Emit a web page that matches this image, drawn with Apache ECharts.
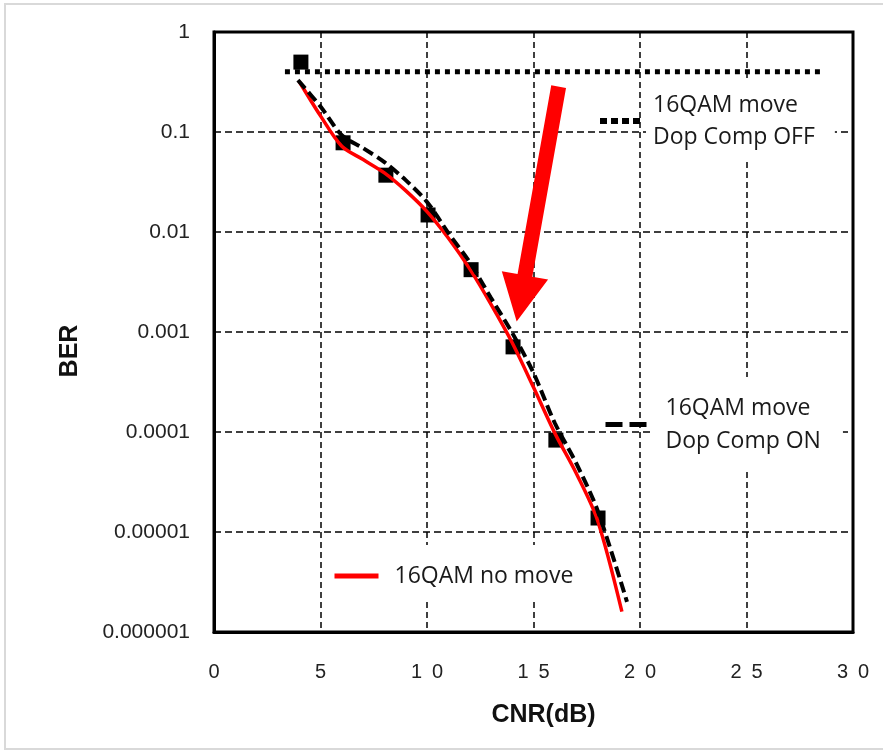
<!DOCTYPE html>
<html>
<head>
<meta charset="utf-8">
<script src="https://cdn.jsdelivr.net/npm/echarts@6/dist/echarts.min.js"></script>
<style>
html,body{margin:0;padding:0;background:#fff;}
#chart{width:883px;height:752px;}
</style>
</head>
<body>
<div id="chart"></div>
<script>
// ---- data ----
const xTickLabels = ['0', '5', '10', '15', '20', '25', '30'];
const yTickLabels = ['1', '0.1', '0.01', '0.001', '0.0001', '0.00001', '0.000001'];

const offName = '16QAM move\nDop Comp OFF';
const onName = '16QAM move\nDop Comp ON';
const noMoveName = '16QAM no move';

const offCnr = [3.33, 28.5];
const offBer = [0.40, 0.40];

const onMarkCnr = [4.08, 6.06, 8.07, 10.05, 12.07, 14.04, 16.05, 18.03];
const onMarkBer = [0.50, 0.078, 0.037, 0.0148, 0.0042, 0.00071, 0.000083, 0.0000138];

const onCnr = [3.94, 5, 6, 7, 8, 9, 10, 11, 12, 13, 14, 15, 16, 17, 18, 19.39];
const onBer = [0.33, 0.18, 0.093, 0.069, 0.050, 0.033, 0.020, 0.0098, 0.0050, 0.0022, 0.00098, 0.00039, 0.000123, 0.000049, 0.0000166, 0.000002];

const noMoveCnr = [4.0, 5, 6, 7, 8, 9, 10, 11, 12, 13, 14, 15, 16, 17, 18, 19.15];
const noMoveBer = [0.32, 0.145, 0.072, 0.053, 0.039, 0.0259, 0.016, 0.0087, 0.0043, 0.0019, 0.00078, 0.00028, 0.0000975, 0.0000389, 0.0000132, 0.0000016];

const arrowFrom = [16.18, 0.284];
const arrowTo = [14.21, 0.00127];

// ---- chart ----
const pairs = (xs, ys) => xs.map((x, i) => [x, ys[i]]);
const legendFont = 'Open Sans';
const axisFont = 'Liberation Sans';

const chart = echarts.init(document.getElementById('chart'), null, {renderer: 'canvas'});
chart.setOption({
  backgroundColor: '#fff',
  animation: false,
  graphic: [{
    type: 'rect', silent: true, z: -10,
    shape: {x: 5, y: 4, width: 900, height: 745},
    style: {fill: null, stroke: '#d9d9d9', lineWidth: 2}
  }],
  grid: {
    left: 214, right: 30, top: 32, bottom: 120,
    show: true, borderColor: '#000', borderWidth: 3, backgroundColor: 'transparent'
  },
  xAxis: {
    type: 'value', min: 0, max: 30, interval: 5,
    name: 'CNR(dB)', nameLocation: 'middle', nameGap: 71,
    nameTextStyle: {fontFamily: axisFont, fontWeight: 'bold', fontSize: 25, color: '#111', padding: [0, 0, 0, 20]},
    axisLine: {show: true, lineStyle: {color: '#000', width: 3}},
    axisTick: {show: false},
    axisLabel: {
      margin: 30, fontFamily: axisFont, fontSize: 20, color: '#222',
      formatter: v => xTickLabels[Math.round(v / 5)].split('').join('\u2002')
    },
    splitLine: {show: true, lineStyle: {color: '#000', width: 1.5, type: [6, 4]}}
  },
  yAxis: {
    type: 'log', logBase: 10, min: 0.000001, max: 1,
    name: 'BER', nameLocation: 'middle', nameGap: 131,
    nameTextStyle: {fontFamily: axisFont, fontWeight: 'bold', fontSize: 25, color: '#111', padding: [0, 38, 0, 0]},
    axisLine: {show: true, lineStyle: {color: '#000', width: 3}},
    axisTick: {show: false},
    axisLabel: {
      margin: 24, fontFamily: axisFont, fontSize: 21, color: '#222',
      formatter: v => yTickLabels[Math.round(-Math.log10(v))]
    },
    splitLine: {show: true, lineStyle: {color: '#000', width: 1.5, type: [7, 4]}}
  },
  legend: [
    {
      data: [offName], left: 597, top: 81, padding: 0, selectedMode: false,
      itemWidth: 41, itemHeight: 14,
      itemStyle: {opacity: 0},
      lineStyle: {color: '#000', width: 6, type: [7, 4], opacity: 1},
      textStyle: {fontFamily: legendFont, fontSize: 23, lineHeight: 32, color: '#1a1a1a',
        backgroundColor: '#fff', padding: [10, 20, 6, 7]}
    },
    {
      data: [onName], left: 603, top: 377, padding: 0, selectedMode: false,
      itemWidth: 42, itemHeight: 14,
      itemStyle: {opacity: 0},
      lineStyle: {color: '#000', width: 5, type: [17, 7], opacity: 1},
      textStyle: {fontFamily: legendFont, fontSize: 23, lineHeight: 33, color: '#1a1a1a',
        backgroundColor: '#fff', padding: [14, 22, 15, 13]}
    },
    {
      data: [noMoveName], left: 330, top: 545, padding: [15, 15, 8, 2], backgroundColor: '#fff',
      selectedMode: false, itemWidth: 44, itemHeight: 14,
      itemStyle: {opacity: 0},
      lineStyle: {color: '#ff0000', width: 5, type: 'solid', opacity: 1},
      textStyle: {fontFamily: legendFont, fontSize: 23, lineHeight: 32, color: '#1a1a1a',
        padding: [0, 0, 0, 11]}
    }
  ],
  series: [
    {
      name: 'measured', type: 'scatter', z: 2,
      symbol: 'rect', symbolSize: 15,
      itemStyle: {color: '#000', opacity: 1},
      data: pairs(onMarkCnr, onMarkBer)
    },
    {
      name: noMoveName, type: 'line', z: 3, smooth: 0.3,
      symbol: 'none', color: '#ff0000',
      lineStyle: {color: '#ff0000', width: 3.5},
      data: pairs(noMoveCnr, noMoveBer)
    },
    {
      name: onName, type: 'line', z: 4, smooth: 0.3,
      symbol: 'none', color: '#000',
      lineStyle: {color: '#000', width: 4, type: [11, 5]},
      data: pairs(onCnr, onBer)
    },
    {
      name: offName, type: 'line', z: 4,
      symbol: 'none', color: '#000',
      lineStyle: {color: '#000', width: 5, type: [5, 5]},
      data: pairs(offCnr, offBer)
    },
    {
      name: 'arrow', type: 'custom', z: 6, clip: false,
      encode: {x: [0, 2], y: [1, 3]},
      data: [[arrowFrom[0], arrowFrom[1], arrowTo[0], arrowTo[1]]],
      renderItem: function (params, api) {
        const p0 = api.coord([api.value(0), api.value(1)]);
        const p1 = api.coord([api.value(2), api.value(3)]);
        const dx = p1[0] - p0[0], dy = p1[1] - p0[1];
        const len = Math.hypot(dx, dy);
        const ux = dx / len, uy = dy / len, nx = -uy, ny = ux;
        const headLen = 47, headW = 47, shaftW = 15;
        const bx = p1[0] - ux * headLen, by = p1[1] - uy * headLen;
        const pts = [
          [p0[0] + nx * shaftW / 2, p0[1] + ny * shaftW / 2],
          [bx + nx * shaftW / 2, by + ny * shaftW / 2],
          [bx + nx * headW / 2, by + ny * headW / 2],
          [p1[0], p1[1]],
          [bx - nx * headW / 2, by - ny * headW / 2],
          [bx - nx * shaftW / 2, by - ny * shaftW / 2],
          [p0[0] - nx * shaftW / 2, p0[1] - ny * shaftW / 2]
        ];
        return {type: 'polygon', shape: {points: pts}, style: {fill: '#ff0000'}};
      }
    }
  ]
});
</script>
</body>
</html>
